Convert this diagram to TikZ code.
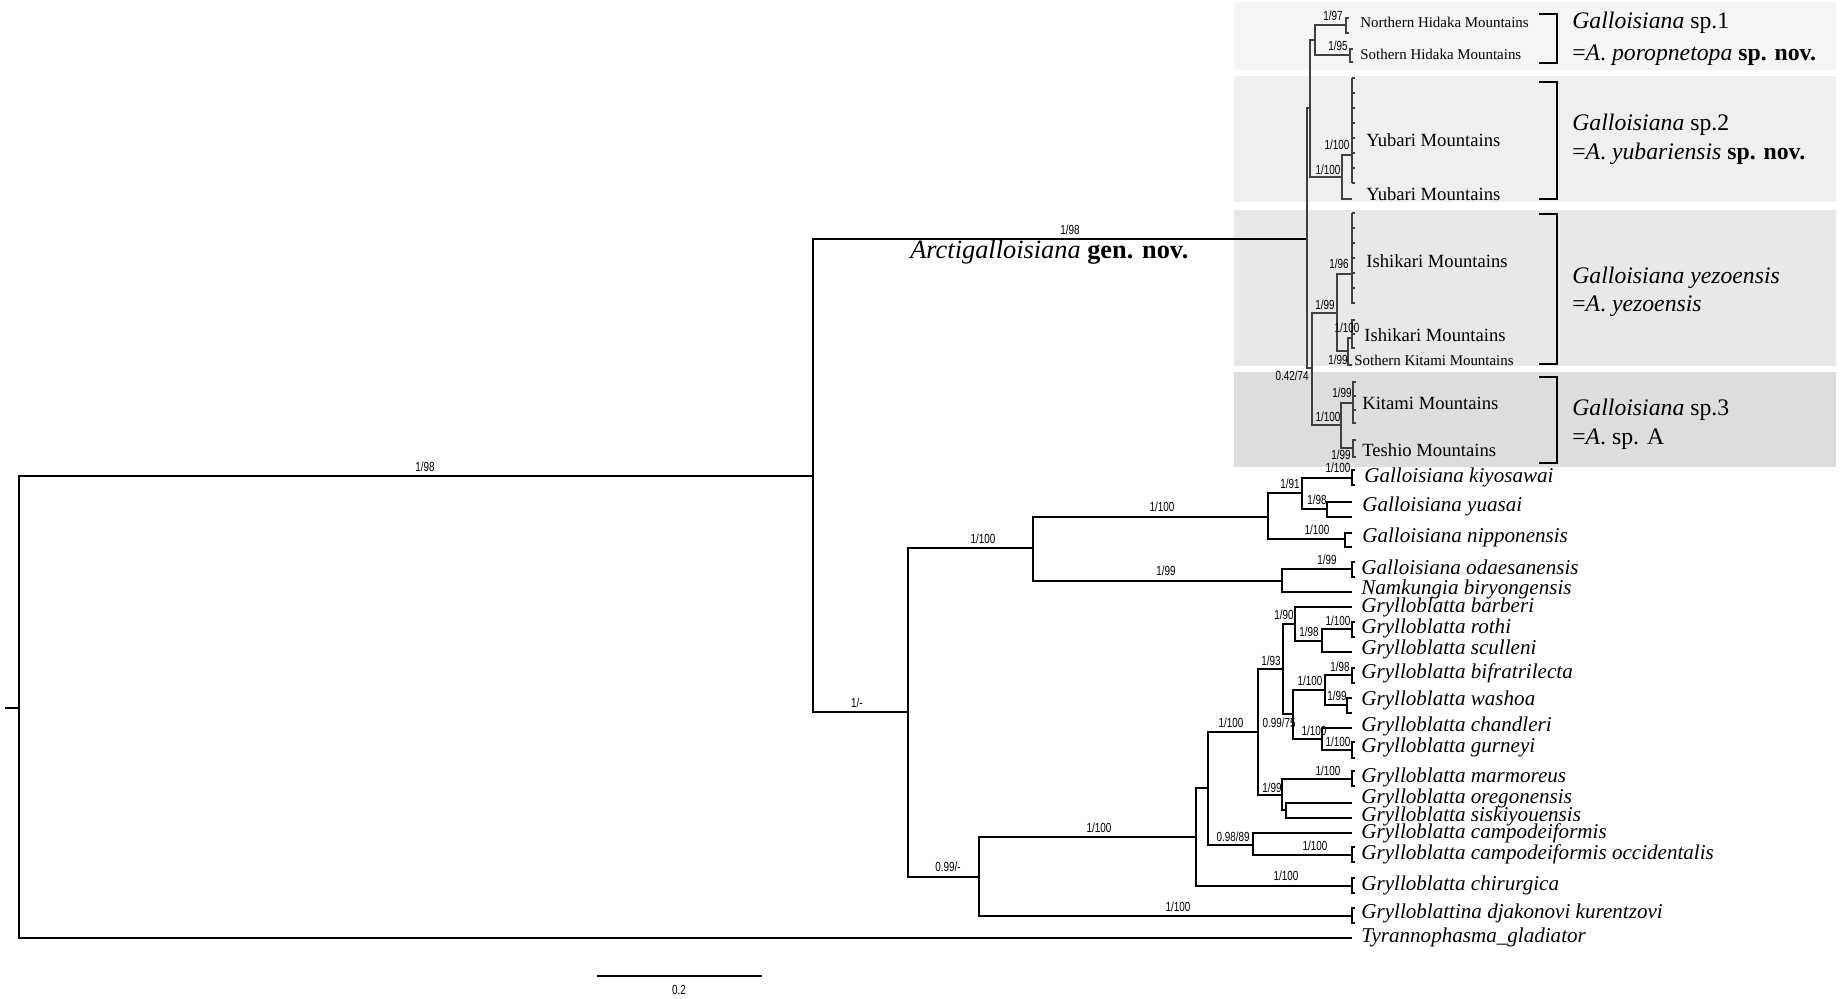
\documentclass[tikz,border=0pt]{standalone}
\usepackage{fontspec}
\setmainfont{Liberation Serif}
\newfontfamily\supfont[FakeStretch=0.75]{Liberation Sans}
\definecolor{boxone}{HTML}{F5F5F5}
\definecolor{boxtwo}{HTML}{EFEFEF}
\definecolor{boxthree}{HTML}{E8E8E8}
\definecolor{boxfour}{HTML}{DDDDDD}

\begin{document}
\begin{tikzpicture}[x=0.02cm, y=-0.02cm,
  branch/.style={line width=0.9pt},
  inner/.style={line width=0.6pt, black!75},
  bracket/.style={line width=1.3pt},
  sup/.style={font=\supfont\fontsize{7.5}{8}\selectfont, inner sep=0},
  taxon/.style={anchor=west, inner sep=0, font=\fontsize{12}{14}\selectfont\itshape},
  place/.style={anchor=west, inner sep=0, font=\fontsize{10.6}{12}\selectfont},
  smallplace/.style={anchor=west, inner sep=0, font=\fontsize{8.5}{10}\selectfont},
  group/.style={anchor=west, inner sep=0, font=\fontsize{13.5}{16}\selectfont}]
  \useasboundingbox (0,0) rectangle (1840,998);

  % grey boxes of the four clades
  \fill[boxone]   (1234,2)   rectangle (1836,70);
  \fill[boxtwo]   (1234,76)  rectangle (1836,202);
  \fill[boxthree] (1234,210) rectangle (1836,366);
  \fill[boxfour]  (1234,372) rectangle (1836,467);

  % backbone
  \coordinate (stub) at (5,708);
  \coordinate (root) at (19,708);
  \coordinate (nA) at (813,476);
  \coordinate (tTyr) at (1352,938);
  \coordinate (nArc) at (1307,239);
  \coordinate (nC) at (908,712);
  \draw[branch] (stub) -- (root) |- (nA);
  \draw[branch] (root) |- (tTyr);
  \draw[branch] (nA) |- (nArc);
  \draw[branch] (nA) |- (nC);

  % Arctigalloisiana
  \coordinate (nB) at (1310,108);
  \coordinate (nD2) at (1312,368);
  \coordinate (nSp1) at (1315,40);
  \coordinate (tNH) at (1346,25);
  \coordinate (tSH) at (1350,55);
  \coordinate (nYub) at (1342,177);
  \coordinate (tYub1) at (1352,155);
  \coordinate (tYub2) at (1352,199);
  \coordinate (nYez) at (1337,313);
  \coordinate (tIsh1) at (1352,274);
  \coordinate (nIsh2) at (1348,351);
  \coordinate (tIsh2) at (1352,338);
  \coordinate (tSK) at (1352,365);
  \coordinate (nSp3) at (1341,425);
  \coordinate (tKit) at (1353,403);
  \coordinate (tTes) at (1353,448);
  \draw[inner] (nArc) |- (nB);
  \draw[inner] (nArc) |- (nD2);
  \draw[inner] (nB) |- (nSp1);
  \draw[inner] (nB) |- (nYub);
  \draw[inner] (nSp1) |- (tNH);
  \draw[inner] (nSp1) |- (tSH);
  \draw[inner] (nYub) |- (tYub1);
  \draw[inner] (nYub) |- (tYub2);
  \draw[inner] (nD2) |- (nYez);
  \draw[inner] (nD2) |- (nSp3);
  \draw[inner] (nYez) |- (tIsh1);
  \draw[inner] (nYez) |- (nIsh2);
  \draw[inner] (nIsh2) |- (tIsh2);
  \draw[inner] (nIsh2) |- (tSK);
  \draw[inner] (nSp3) |- (tKit);
  \draw[inner] (nSp3) |- (tTes);

  % collapsed samples (combs)
  \draw[inner] (1352,78) -- (1352,183);
  \foreach \y in {78,93,...,183} \draw[inner] (1352,\y) -- (1355,\y);
  \draw[inner] (1352,213) -- (1352,304);
  \draw[inner, line width=1.1pt] (1352,243) -- (1352,277);
  \foreach \y in {213,228,...,303} \draw[inner] (1352,\y) -- (1355,\y);
  \foreach \x/\a/\b in {1346/18/33, 1350/49/62, 1352/320/348, 1353/382/423, 1353/440/457}
    \draw[inner] (\x+3,\a) -- (\x,\a) -- (\x,\b) -- (\x+3,\b);
  \foreach \y in {334} \draw[inner] (1352,\y) -- (1355,\y);
  \foreach \y in {396,410} \draw[inner] (1353,\y) -- (1356,\y);

  % Galloisiana / Grylloblatta
  \coordinate (nD) at (1033,548);
  \coordinate (nX) at (979,877);
  \coordinate (nE) at (1268,517);
  \coordinate (nH) at (1282,581);
  \coordinate (nF) at (1302,493);
  \coordinate (tNip) at (1345,539);
  \coordinate (tKiy) at (1352,478);
  \coordinate (nG) at (1327,509);
  \coordinate (tYua1) at (1352,502);
  \coordinate (tYua2) at (1352,517);
  \coordinate (tOda) at (1352,569);
  \coordinate (tNam) at (1352,592);
  \coordinate (nU) at (1196,837);
  \coordinate (tDja) at (1352,916);
  \coordinate (nV) at (1208,788);
  \coordinate (tChi) at (1352,886);
  \coordinate (nP) at (1258,732);
  \coordinate (nW) at (1253,845);
  \coordinate (tCam) at (1352,833);
  \coordinate (tOcc) at (1352,855);
  \coordinate (nK) at (1283,669);
  \coordinate (nQ) at (1282,795);
  \coordinate (nI) at (1295,624);
  \coordinate (nL) at (1293,714);
  \coordinate (tBar) at (1352,607);
  \coordinate (nJ) at (1322,641);
  \coordinate (tRot) at (1352,629);
  \coordinate (tScu) at (1352,652);
  \coordinate (nM) at (1325,690);
  \coordinate (nO) at (1322,739);
  \coordinate (tBif) at (1352,675);
  \coordinate (nN) at (1347,705);
  \coordinate (tWas1) at (1352,698);
  \coordinate (tWas2) at (1352,713);
  \coordinate (tCha) at (1352,728);
  \coordinate (tGur) at (1352,750);
  \coordinate (tMar) at (1352,779);
  \coordinate (nS) at (1286,810);
  \coordinate (tOre) at (1352,803);
  \coordinate (tSis) at (1352,818);
  \draw[branch] (nC) |- (nD);
  \draw[branch] (nC) |- (nX);
  \draw[branch] (nD) |- (nE);
  \draw[branch] (nD) |- (nH);
  \draw[branch] (nE) |- (nF);
  \draw[branch] (nE) |- (tNip);
  \draw[branch] (nF) |- (tKiy);
  \draw[branch] (nF) |- (nG);
  \draw[branch] (nG) |- (tYua1);
  \draw[branch] (nG) |- (tYua2);
  \draw[branch] (nH) |- (tOda);
  \draw[branch] (nH) |- (tNam);
  \draw[branch] (nX) |- (nU);
  \draw[branch] (nX) |- (tDja);
  \draw[branch] (nU) |- (nV);
  \draw[branch] (nU) |- (tChi);
  \draw[branch] (nV) |- (nP);
  \draw[branch] (nV) |- (nW);
  \draw[branch] (nW) |- (tCam);
  \draw[branch] (nW) |- (tOcc);
  \draw[branch] (nP) |- (nK);
  \draw[branch] (nP) |- (nQ);
  \draw[branch] (nK) |- (nI);
  \draw[branch] (nK) |- (nL);
  \draw[branch] (nI) |- (tBar);
  \draw[branch] (nI) |- (nJ);
  \draw[branch] (nJ) |- (tRot);
  \draw[branch] (nJ) |- (tScu);
  \draw[branch] (nL) |- (nM);
  \draw[branch] (nL) |- (nO);
  \draw[branch] (nM) |- (tBif);
  \draw[branch] (nM) |- (nN);
  \draw[branch] (nN) |- (tWas1);
  \draw[branch] (nN) |- (tWas2);
  \draw[branch] (nO) |- (tCha);
  \draw[branch] (nO) |- (tGur);
  \draw[branch] (nQ) |- (tMar);
  \draw[branch] (nQ) |- (nS);
  \draw[branch] (nS) |- (tOre);
  \draw[branch] (nS) |- (tSis);

  % small bars on the tips
  \foreach \x/\a/\b/\l in {1352/470/485/3, 1345/533/547/7, 1352/562/577/3, 1352/622/637/3,
      1352/668/683/3, 1352/742/758/3, 1352/771/786/3, 1352/847/862/3, 1352/878/893/3, 1352/908/923/3}
    \draw[branch, line width=0.7pt] (\x+\l,\a) -- (\x,\a) -- (\x,\b) -- (\x+\l,\b);

  % support values
  \foreach \x/\y/\a/\b [count=\i] in {425/467/1/98, 1070/230/1/98, 857/703/1/-,
      1333/16/1/97, 1338/46/1/95, 1337/145/1/100, 1328/170/1/100,
      1339/264/1/96, 1325/305/1/99, 1347/328/1/100, 1338/360/1/99, 1292/376/0.42/74,
      1342/393/1/99, 1328/417/1/100, 1341/455/1/99,
      1338/468/1/100, 1290/484/1/91, 1317/500/1/98, 1317/530/1/100,
      1162/507/1/100, 983/539/1/100, 1166/571/1/99, 1327/560/1/99,
      1284/615/1/90, 1338/621/1/100, 1309/632/1/98, 1271/661/1/93,
      1340/667/1/98, 1310/681/1/100, 1337/696/1/99, 1231/723/1/100,
      1279/723/0.99/75, 1314/731/1/100, 1338/742/1/100, 1328/771/1/100,
      1272/788/1/99, 1233/837/0.98/89, 1315/846/1/100, 1286/876/1/100,
      1099/828/1/100, 948/867/0.99/-, 1178/907/1/100}
    \node[sup] (sup\i) at (\x,\y) {\a/\b};

  % taxon names
  \foreach \x/\y/\t [count=\i] in {1364/477/Galloisiana kiyosawai, 1362/506/Galloisiana yuasai,
      1362/537/Galloisiana nipponensis, 1361/567/Galloisiana odaesanensis,
      1361/589/Namkungia biryongensis, 1361/607/Grylloblatta barberi,
      1361/628/Grylloblatta rothi, 1361/649/Grylloblatta sculleni,
      1361/673/Grylloblatta bifratrilecta, 1361/700/Grylloblatta washoa,
      1361/726/Grylloblatta chandleri, 1361/747/Grylloblatta gurneyi,
      1361/777/Grylloblatta marmoreus, 1361/798/Grylloblatta oregonensis,
      1361/816/Grylloblatta siskiyouensis, 1361/833/Grylloblatta campodeiformis,
      1361/854/Grylloblatta campodeiformis occidentalis, 1361/885/Grylloblatta chirurgica,
      1361/913/Grylloblattina djakonovi kurentzovi}
    \node[taxon] (tax\i) at (\x,\y) {\t};
  \node[taxon] (taxTyr) at (1361,937) {Tyrannophasma\_gladiator};

  % localities
  \node[smallplace] (locNH) at (1360,22) {Northern Hidaka Mountains};
  \node[smallplace] (locSH) at (1360,54) {Sothern Hidaka Mountains};
  \node[place] (locY1) at (1366,140) {Yubari Mountains};
  \node[place] (locY2) at (1366,194) {Yubari Mountains};
  \node[place] (locI1) at (1366,261) {Ishikari Mountains};
  \node[place] (locI2) at (1364,335) {Ishikari Mountains};
  \node[smallplace] (locSK) at (1354,360) {Sothern Kitami Mountains};
  \node[place] (locK) at (1362,403) {Kitami Mountains};
  \node[place] (locT) at (1362,450) {Teshio Mountains};

  % brackets and species
  \foreach \a/\b in {14/63, 82/199, 214/364, 377/463}
    \draw[bracket] (1539,\a) -- (1557,\a) -- (1557,\b) -- (1539,\b);
  \node[group] (sp1a) at (1572,23) {\textit{Galloisiana} sp.1};
  \node[group] (sp1b) at (1572,55) {=\textit{A}. \textit{poropnetopa} \textbf{sp. nov.}};
  \node[group] (sp2a) at (1572,125) {\textit{Galloisiana} sp.2};
  \node[group] (sp2b) at (1572,154) {=\textit{A}. \textit{yubariensis} \textbf{sp. nov.}};
  \node[group] (yeza) at (1572,278) {\textit{Galloisiana yezoensis}};
  \node[group] (yezb) at (1572,306) {=\textit{A}. \textit{yezoensis}};
  \node[group] (sp3a) at (1572,410) {\textit{Galloisiana} sp.3};
  \node[group] (sp3b) at (1572,439) {=\textit{A}. sp. A};

  % genus label
  \node[anchor=west, inner sep=0, font=\fontsize{15}{18}\selectfont] (genus) at (910,252)
    {\textit{Arctigalloisiana} \textbf{gen. nov.}};

  % scale bar
  \coordinate (sbL) at (597,976);
  \coordinate (sbR) at (762,976);
  \draw[line width=1.2pt] (sbL) -- (sbR);
  \node[sup] (sbT) at (679,990) {0.2};
\end{tikzpicture}
\end{document}
